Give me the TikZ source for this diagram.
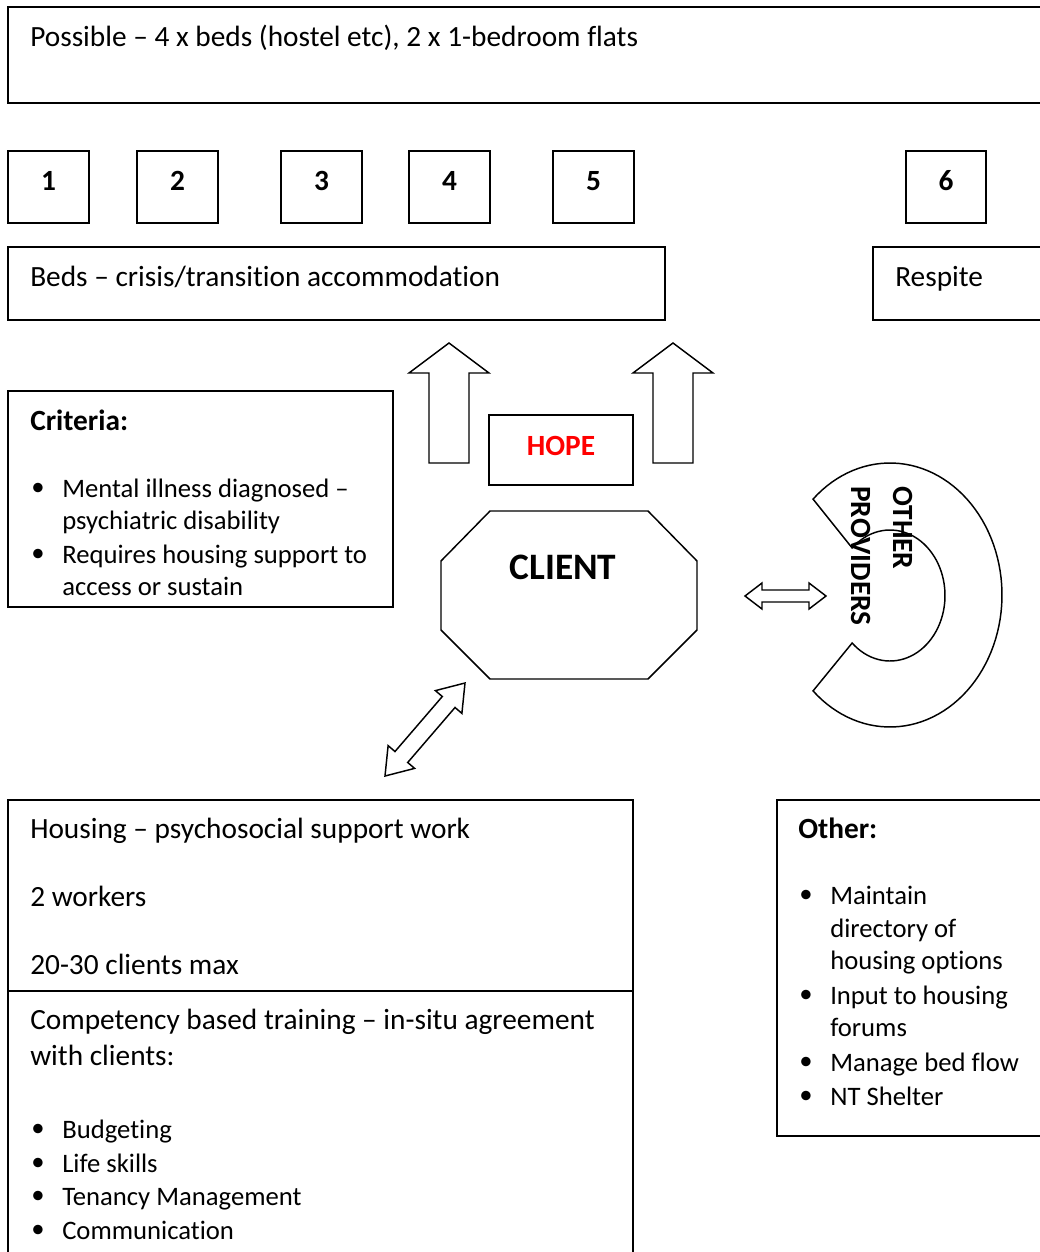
\documentclass[tikz,border=0pt]{standalone}
\usepackage{fontspec}
\setmainfont{Carlito}[Ligatures={NoCommon,TeX}]
\usetikzlibrary{calc}
\newcommand\fbody{\fontsize{22pt}{26pt}\selectfont}
\newcommand\fitem{\fontsize{20pt}{24pt}\selectfont}
\newcommand\fbig{\fontsize{22pt}{26pt}\selectfont\bfseries}
\newcommand\fclient{\fontsize{28pt}{32pt}\selectfont\bfseries}
\definecolor{hopered}{RGB}{255,0,0}
\begin{document}
\begin{tikzpicture}[x=0.75pt,y=-0.75pt,
  shapeline/.style={draw=black, line width=1.1pt, line join=miter},
  txt/.style={anchor=base west, inner sep=0pt, font=\fbody, yshift=-0.8pt},
  itxt/.style={anchor=base west, inner sep=0pt, font=\fitem, yshift=-0.4pt},
  bul/.style={anchor=center, inner sep=0pt, font=\fitem},
  num/.style={anchor=center, inner sep=0pt, font=\fbody\bfseries},
]
\useasboundingbox (0,0) rectangle (1039,1252);
\fill[white] (0,0) rectangle (1039,1252);

% top box
\draw[shapeline] (8,7) rectangle (1060,103);
\node[txt] (possible) at (30,45) {Possible – 4 x beds (hostel etc), 2 x 1-bedroom flats};

% numbered boxes
\foreach \n/\l/\r in {1/8/89, 2/137/218, 3/281/362, 4/409/490, 5/553/634, 6/906/986} {
  \draw[shapeline] (\l,151) rectangle (\r,223);
  \node[num] (n\n) at ({(\l+\r)/2},181) {\n};
}

% beds and respite
\draw[shapeline] (8,247) rectangle (665,320);
\node[txt] (beds) at (30,285) {Beds – crisis/transition accommodation};
\draw[shapeline] (873,247) rectangle (1060,320);
\node[txt] (respite) at (895,285) {Respite};

% up arrows
\draw[shapeline] (449,343) -- (489,373) -- (469,373) -- (469,463) -- (429,463) -- (429,373) -- (409,373) -- cycle;
\draw[shapeline] (673,343) -- (713,373) -- (693,373) -- (693,463) -- (653,463) -- (653,373) -- (633,373) -- cycle;

% HOPE
\draw[shapeline] (489,415) rectangle (633,485);
\node[anchor=center, inner sep=0pt, font=\fbig, text=hopered] (hope) at (561,446) {HOPE};

% criteria
\draw[shapeline] (8,391) rectangle (393,607);
\node[txt, font=\fbody\bfseries] (crit) at (30,429) {Criteria:};
\node[bul] (cb1) at (38,489) {•};
\node[itxt] (c1a) at (62,497) {Mental illness diagnosed –};
\node[itxt] (c1b) at (62,529) {psychiatric disability};
\node[bul] (cb2) at (38,555) {•};
\node[itxt] (c2a) at (62,563) {Requires housing support to};
\node[itxt] (c2b) at (62,595) {access or sustain};

% client octagon
\draw[shapeline] (490,511) -- (648,511) -- (697,561) -- (697,630) -- (648,679) -- (490,679) -- (441,630) -- (441,561) -- cycle;
\node[anchor=center, inner sep=0pt, font=\fclient] (client) at (563,567) {CLIENT};

% horizontal double arrow
\draw[shapeline] (745,596) -- (762,583) -- (762,590) -- (809,590) -- (809,583) -- (826,596) -- (809,609) -- (809,602) -- (762,602) -- (762,609) -- cycle;

% diagonal double arrow
\coordinate (dA) at (385,776);
\coordinate (dB) at (465,683);
\coordinate (a1) at ($(dA)!18.8pt!(dB)$);
\coordinate (b1) at ($(dB)!18.8pt!(dA)$);
\draw[shapeline] (dA) -- ($(a1)!13.1pt!90:(dB)$) -- ($(a1)!6.3pt!90:(dB)$) -- ($(b1)!6.3pt!-90:(dA)$) -- ($(b1)!13.1pt!-90:(dA)$) -- (dB)
  -- ($(b1)!13.1pt!90:(dA)$) -- ($(b1)!6.3pt!90:(dA)$) -- ($(a1)!6.3pt!-90:(dB)$) -- ($(a1)!13.1pt!-90:(dB)$) -- cycle;

% crescent (other providers)
\draw[shapeline] plot[domain=133.4:-133.4, samples=90] ({890+112*cos(\x)},{595-132*sin(\x)})
  -- plot[domain=-133.5:133.5, samples=70] ({890+55*cos(\x)},{595.5-65.5*sin(\x)}) -- cycle;
\node[anchor=base west, inner sep=0pt, rotate=-90, font=\fbig] (other) at (893,486) {OTHER};
\node[anchor=base west, inner sep=0pt, rotate=-90, font=\fbig] (providers) at (851,486) {PROVIDERS};

% housing box
\draw[shapeline] (8,800) rectangle (633,1270);
\draw[shapeline] (8,991) -- (633,991);
\node[txt] (h1) at (30,837) {Housing – psychosocial support work};
\node[txt] (h2) at (30,905) {2 workers};
\node[txt] (h3) at (30,973) {20-30 clients max};
\node[txt] (h4) at (30,1028) {Competency based training – in-situ agreement};
\node[txt] (h5) at (30,1064) {with clients:};
\foreach \i/\yy/\t in {1/1130/Budgeting, 2/1164/Life skills, 3/1197/Tenancy Management, 4/1231/Communication} {
  \node[bul] (hb\i) at (38,\yy) {•};
  \node[itxt] (hi\i) at (62,\yy+8) {\t};
}

% other box
\draw[shapeline] (777,800) rectangle (1060,1136);
\node[txt, font=\fbody\bfseries] (oth) at (798,837) {Other:};
\node[bul] (ob1) at (806,896) {•};
\node[itxt] (o1a) at (830,904) {Maintain};
\node[itxt] (o1b) at (830,937) {directory of};
\node[itxt] (o1c) at (830,969) {housing options};
\node[bul] (ob2) at (806,996) {•};
\node[itxt] (o2a) at (830,1004) {Input to housing};
\node[itxt] (o2b) at (830,1036) {forums};
\node[bul] (ob3) at (806,1063) {•};
\node[itxt] (o3) at (830,1071) {Manage bed flow};
\node[bul] (ob4) at (806,1097) {•};
\node[itxt] (o4) at (830,1105) {NT Shelter};
\end{tikzpicture}
\end{document}
